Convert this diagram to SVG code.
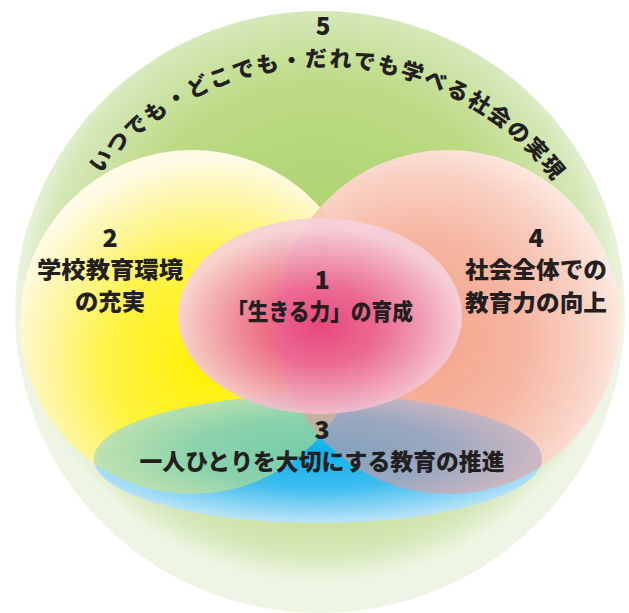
<svg xmlns="http://www.w3.org/2000/svg" width="629" height="613" viewBox="0 0 629 613">
  <style>
    .t { font-family: "Noto Sans CJK JP", "Noto Sans", sans-serif; font-weight: 900; fill: #231f20; text-anchor: middle; }
    .num { font-size: 25px; }
    .lbl { font-size: 23px; }
  </style>
  <defs>
    <radialGradient id="gGreen" cx="0.5" cy="0.45" r="0.5">
      <stop offset="0" stop-color="#a9cf68"/>
      <stop offset="0.65" stop-color="#bcda84"/>
      <stop offset="0.9" stop-color="#d5e8b8"/>
      <stop offset="1" stop-color="#eef5e4"/>
    </radialGradient>
    <radialGradient id="gYellow" cx="0.55" cy="0.62" r="0.6">
      <stop offset="0" stop-color="#fff000"/>
      <stop offset="0.5" stop-color="#fff345"/>
      <stop offset="0.8" stop-color="#fdf6a8"/>
      <stop offset="1" stop-color="#fffbe6"/>
    </radialGradient>
    <radialGradient id="gSalmon" cx="0.42" cy="0.55" r="0.6">
      <stop offset="0" stop-color="#f4a489"/>
      <stop offset="0.5" stop-color="#f6b6a2"/>
      <stop offset="0.82" stop-color="#f9d3c6"/>
      <stop offset="1" stop-color="#fdebe4"/>
    </radialGradient>
    <radialGradient id="gPink" cx="0.5" cy="0.55" r="0.5">
      <stop offset="0" stop-color="#e63a77"/>
      <stop offset="0.4" stop-color="#ea6191"/>
      <stop offset="0.8" stop-color="#f1abc2"/>
      <stop offset="1" stop-color="#f6d0dc"/>
    </radialGradient>
    <radialGradient id="gBlue" cx="0.5" cy="0.45" r="0.55">
      <stop offset="0" stop-color="#10b2ea"/>
      <stop offset="0.5" stop-color="#3dbdee"/>
      <stop offset="1" stop-color="#bde4f8"/>
    </radialGradient>
    <clipPath id="cYellow"><circle cx="192" cy="322" r="172"/></clipPath>
    <clipPath id="cBlue"><ellipse cx="318" cy="459" rx="224" ry="64"/></clipPath>
    <path id="arc" d="M 53 259 A 287 287 0 0 1 595 259"/>
  </defs>

  <g id="node-5">
    <ellipse cx="320" cy="312" rx="305" ry="301" fill="url(#gGreen)"/>
  </g>

  <g id="node-2">
    <circle cx="192" cy="322" r="172" fill="url(#gYellow)"/>
  </g>

  <g id="node-4">
    <circle cx="448" cy="322" r="172" fill="url(#gSalmon)"/>
    <g clip-path="url(#cYellow)">
      <circle cx="448" cy="322" r="172" fill="#f8c8a2" opacity="0.55"/>
    </g>
  </g>

  <g id="node-3">
    <ellipse cx="318" cy="459" rx="224" ry="64" fill="url(#gBlue)"/>
    <g clip-path="url(#cBlue)">
      <circle cx="192" cy="322" r="172" fill="#d9e86a" opacity="0.5"/>
      <circle cx="448" cy="322" r="172" fill="#f59290" opacity="0.5"/>
    </g>
  </g>

  <g id="node-1">
    <ellipse cx="320" cy="316" rx="142" ry="98" fill="url(#gPink)" opacity="0.9"/>
  </g>

  <g id="labels">
    <text class="t" font-size="24" x="323" y="35">5</text>
    <text class="t" font-size="22"><textPath href="#arc" startOffset="50.6%" textLength="523" lengthAdjust="spacing">いつでも・どこでも・だれでも学べる社会の実現</textPath></text>

    <text class="t num" x="110" y="247">2</text>
    <text class="t lbl" x="110" y="278" textLength="146" lengthAdjust="spacingAndGlyphs">学校教育環境</text>
    <text class="t lbl" x="110" y="310" textLength="70" lengthAdjust="spacingAndGlyphs">の充実</text>

    <text class="t num" x="536" y="247">4</text>
    <text class="t lbl" x="536" y="278" textLength="142" lengthAdjust="spacingAndGlyphs">社会全体での</text>
    <text class="t lbl" x="536" y="311" textLength="142" lengthAdjust="spacingAndGlyphs">教育力の向上</text>

    <text class="t num" x="322" y="289">1</text>
    <text class="t lbl" x="320" y="320" textLength="186" lengthAdjust="spacingAndGlyphs">「生きる力」の育成</text>

    <text class="t num" x="322" y="439">3</text>
    <text class="t lbl" x="322" y="470" textLength="365" lengthAdjust="spacingAndGlyphs">一人ひとりを大切にする教育の推進</text>
  </g>
</svg>
